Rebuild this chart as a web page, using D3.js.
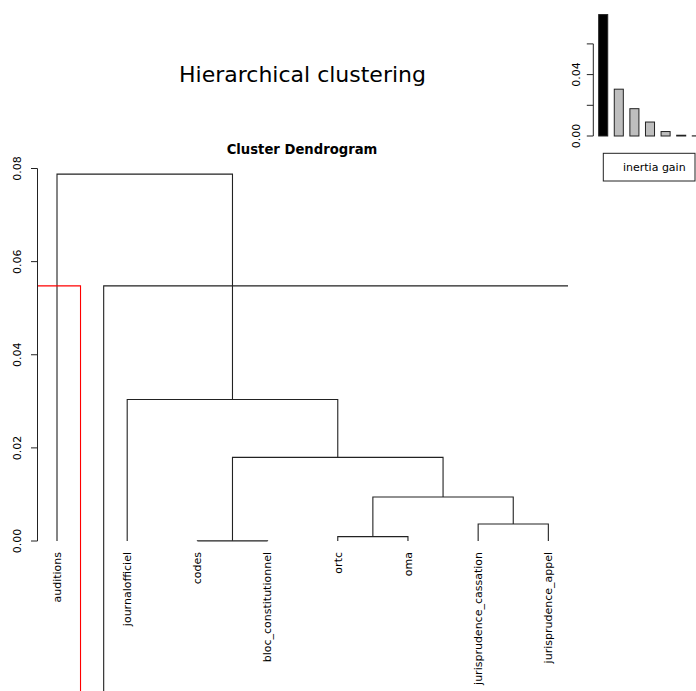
<!DOCTYPE html>
<html>
<head>
<meta charset="utf-8">
<script src="https://cdn.jsdelivr.net/npm/d3@7"></script>
<style>
	body { margin: 0; background: #fff; }
	svg { display: block; font-family: "DejaVu Sans", sans-serif; }
</style>
</head>
<body>
<svg id="chart" width="696" height="691"></svg>
<script>
// leaves in dendrogram order
const leaves = [ 'auditions', 'journalofficiel', 'codes', 'bloc_constitutionnel', 'ortc', 'oma', 'jurisprudence_cassation', 'jurisprudence_appel' ];
// hclust-style merges: negative = leaf index (1-based), positive = earlier merge
const mergeLeft = [ -3, -5, -7, 2, 1, -2, -1 ];
const mergeRight = [ -4, -6, -8, 3, 4, 5, 6 ];
const mergeHeight = [ 0.00003, 0.00093, 0.00365, 0.00945, 0.01797, 0.0304, 0.0788 ];
const yTicks = [ 0, 0.02, 0.04, 0.06, 0.08 ];
// cut line chosen on the tree (height, x of the red and black legs)
const cutHeight = 0.0548;
const cutRedX = 1.335;
const cutBlackX = 1.665;
// inertia gain inset
const inertiaGain = [ 0.0791, 0.0305, 0.0178, 0.0091, 0.0029, 0.0005, 0.0001 ];
const gainTicks = [ 0, 0.02, 0.04, 0.06 ];
const gainLabels = [ '0.00', '', '0.04', '' ];

const svg = d3.select( '#chart' ),
	fmt = d3.format( '.2f' );

svg.append( 'text' )
	.attr( 'x', 302.5 ).attr( 'y', 82.3 )
	.attr( 'text-anchor', 'middle' )
	.style( 'font-size', '22px' )
	.text( 'Hierarchical clustering' );

// dendrogram
const x = d3.scaleLinear().domain( [ 0.72, 8.28 ] ).range( [ 37.35, 568 ] ),
	y = d3.scaleLinear().domain( [ 0, 0.08 ] ).range( [ 541, 168.5 ] ),
	g = svg.append( 'g' );

g.append( 'text' )
	.attr( 'x', 302 ).attr( 'y', 154.3 )
	.attr( 'text-anchor', 'middle' )
	.style( 'font-size', '13.2px' )
	.style( 'font-weight', 'bold' )
	.text( 'Cluster Dendrogram' );

const nodes = [];
const pos = ( k ) => ( k < 0 ? { x: -k, h: 0 } : nodes[ k - 1 ] );
mergeHeight.forEach( ( h, i ) => {
	const a = pos( mergeLeft[ i ] ), b = pos( mergeRight[ i ] );
	nodes.push( { x: ( a.x + b.x ) / 2, h, a, b } );
} );

const line = d3.line().x( ( d ) => x( d[ 0 ] ) ).y( ( d ) => y( d[ 1 ] ) );

g.selectAll( 'path.link' )
	.data( nodes )
	.enter()
	.append( 'path' )
	.attr( 'class', 'link' )
	.attr( 'fill', 'none' )
	.attr( 'stroke', '#222' )
	.attr( 'stroke-width', 1.1 )
	.attr( 'd', ( d ) => line( [ [ d.a.x, d.a.h ], [ d.a.x, d.h ], [ d.b.x, d.h ], [ d.b.x, d.b.h ] ] ) );

// cut lines
g.append( 'path' )
	.attr( 'fill', 'none' ).attr( 'stroke', '#ff0000' ).attr( 'stroke-width', 1.1 )
	.attr( 'd', `M${x( 0.72 )},${y( cutHeight )}H${x( cutRedX )}V691` );
g.append( 'path' )
	.attr( 'fill', 'none' ).attr( 'stroke', '#222' ).attr( 'stroke-width', 1.1 )
	.attr( 'd', `M${x( cutBlackX )},691V${y( cutHeight )}H${x( 8.28 )}` );

// leaf labels
g.selectAll( 'text.leaf' )
	.data( leaves )
	.enter()
	.append( 'text' )
	.attr( 'class', 'leaf' )
	.attr( 'transform', ( d, i ) => `translate(${x( i + 1 )},552) rotate(-90)` )
	.attr( 'text-anchor', 'end' )
	.attr( 'dy', '0.35em' )
	.style( 'font-size', '11px' )
	.text( ( d ) => d );

// y axis
const yAxis = g.append( 'g' ).attr( 'transform', 'translate(37.5,0)' );
yAxis.append( 'line' ).attr( 'y1', y( 0 ) ).attr( 'y2', y( 0.08 ) ).attr( 'stroke', '#222' );
yAxis.selectAll( 'line.tick' ).data( yTicks ).enter().append( 'line' )
	.attr( 'class', 'tick' ).attr( 'x1', -6.5 ).attr( 'x2', 0 )
	.attr( 'y1', ( d ) => y( d ) ).attr( 'y2', ( d ) => y( d ) ).attr( 'stroke', '#222' );
yAxis.selectAll( 'text' ).data( yTicks ).enter().append( 'text' )
	.attr( 'transform', ( d ) => `translate(-20.5,${y( d )}) rotate(-90)` )
	.attr( 'text-anchor', 'middle' ).attr( 'dy', '0.35em' )
	.style( 'font-size', '11px' )
	.text( ( d ) => fmt( d ) );

// inertia gain inset
const gx = d3.scaleBand().domain( d3.range( inertiaGain.length ) )
		.range( [ 595.4, 595.4 + 15.6 * inertiaGain.length ] )
		.paddingInner( 0.42 ).paddingOuter( 0.21 ),
	gy = d3.scaleLinear().domain( [ 0, 0.02 ] ).range( [ 136, 105.3 ] ),
	inset = svg.append( 'g' );

inset.selectAll( 'rect' )
	.data( inertiaGain )
	.enter()
	.append( 'rect' )
	.attr( 'x', ( d, i ) => gx( i ) )
	.attr( 'width', gx.bandwidth() )
	.attr( 'y', ( d ) => gy( d ) )
	.attr( 'height', ( d ) => gy( 0 ) - gy( d ) )
	.attr( 'fill', ( d, i ) => ( i === 0 ? '#000' : '#bebebe' ) )
	.attr( 'stroke', '#222' )
	.attr( 'stroke-width', 1 );

const gAxis = inset.append( 'g' ).attr( 'transform', 'translate(593.3,0)' );
gAxis.append( 'line' ).attr( 'y1', gy( 0 ) ).attr( 'y2', gy( 0.06 ) ).attr( 'stroke', '#222' );
gAxis.selectAll( 'line.tick' ).data( gainTicks ).enter().append( 'line' )
	.attr( 'class', 'tick' ).attr( 'x1', -6.5 ).attr( 'x2', 0 )
	.attr( 'y1', ( d ) => gy( d ) ).attr( 'y2', ( d ) => gy( d ) ).attr( 'stroke', '#222' );
gAxis.selectAll( 'text' ).data( gainTicks ).enter().append( 'text' )
	.attr( 'transform', ( d ) => `translate(-17.6,${gy( d )}) rotate(-90)` )
	.attr( 'text-anchor', 'middle' ).attr( 'dy', '0.35em' )
	.style( 'font-size', '11px' )
	.text( ( d, i ) => gainLabels[ i ] );

inset.append( 'rect' )
	.attr( 'x', 603.3 ).attr( 'y', 153.3 ).attr( 'width', 91.7 ).attr( 'height', 27.7 )
	.attr( 'fill', 'none' ).attr( 'stroke', '#222' );
inset.append( 'text' )
	.attr( 'x', 654.3 ).attr( 'y', 167.2 )
	.attr( 'text-anchor', 'middle' ).attr( 'dy', '0.35em' )
	.style( 'font-size', '11px' )
	.text( 'inertia gain' );
</script>
</body>
</html>
